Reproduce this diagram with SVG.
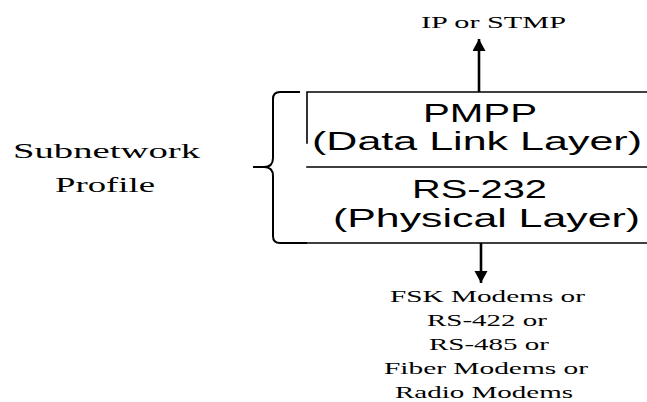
<svg xmlns="http://www.w3.org/2000/svg" width="647" height="402" viewBox="0 0 647 402">
  <style>
    .bg { fill: #ffffff; }
    .ln { stroke: #000; stroke-width: 1.6; fill: none; stroke-linecap: square; }
    .br { stroke: #000; stroke-width: 2; fill: none; stroke-linejoin: round; }
    .arr { stroke: #000; stroke-width: 2.6; fill: none; }
    .sans { font-family: "Liberation Sans", Arial, sans-serif; font-size: 26px; fill: #000; }
    .serif { font-family: "Liberation Serif", "Times New Roman", serif; font-size: 17px; fill: #000; }
    .serif-l { font-family: "Liberation Serif", "Times New Roman", serif; font-size: 22px; fill: #000; }
  </style>
  <defs>
    <marker id="head" markerUnits="userSpaceOnUse" markerWidth="14" markerHeight="14" refX="12" refY="6.5" orient="auto">
      <path d="M0,0 L12,6.5 L0,13 z" fill="#000"/>
    </marker>
  </defs>
  <rect class="bg" x="0" y="0" width="647" height="402"/>

  <g id="profile-label">
    <text class="serif-l" x="13" y="158" textLength="187" lengthAdjust="spacingAndGlyphs">Subnetwork</text>
    <text class="serif-l" x="55" y="192" textLength="100" lengthAdjust="spacingAndGlyphs">Profile</text>
  </g>

  <g id="brace">
    <path class="br" d="M300,92 H280 Q273,92 273,99 V158 Q273,167 264,167 H253 M264,167 Q273,167 273,176 V236 Q273,243 280,243 H307"/>
  </g>

  <g id="node-pmpp">
    <path class="ln" d="M307,92 H647 M307,92 V143"/>
    <text class="sans" x="423" y="122" textLength="114" lengthAdjust="spacingAndGlyphs">PMPP</text>
    <text class="sans" x="312" y="150" textLength="330" lengthAdjust="spacingAndGlyphs">(Data Link Layer)</text>
  </g>

  <g id="node-rs232">
    <path class="ln" d="M307,167 H647 M307,243 H647"/>
    <text class="sans" x="412" y="198" textLength="135" lengthAdjust="spacingAndGlyphs">RS-232</text>
    <text class="sans" x="333" y="227" textLength="307" lengthAdjust="spacingAndGlyphs">(Physical Layer)</text>
  </g>

  <g id="node-upper">
    <text class="serif" x="421" y="28" textLength="145" lengthAdjust="spacingAndGlyphs">IP or STMP</text>
  </g>

  <g id="node-lower">
    <text class="serif" x="390" y="302" textLength="195" lengthAdjust="spacingAndGlyphs">FSK Modems or</text>
    <text class="serif" x="427" y="326" textLength="120" lengthAdjust="spacingAndGlyphs">RS-422 or</text>
    <text class="serif" x="429" y="350" textLength="120" lengthAdjust="spacingAndGlyphs">RS-485 or</text>
    <text class="serif" x="384" y="374" textLength="204" lengthAdjust="spacingAndGlyphs">Fiber Modems or</text>
    <text class="serif" x="395" y="398" textLength="178" lengthAdjust="spacingAndGlyphs">Radio Modems</text>
  </g>

  <g id="connectors">
    <line class="arr" x1="479" y1="92" x2="479" y2="39" marker-end="url(#head)"/>
    <line class="arr" x1="481" y1="243" x2="481" y2="283" marker-end="url(#head)"/>
  </g>
</svg>
